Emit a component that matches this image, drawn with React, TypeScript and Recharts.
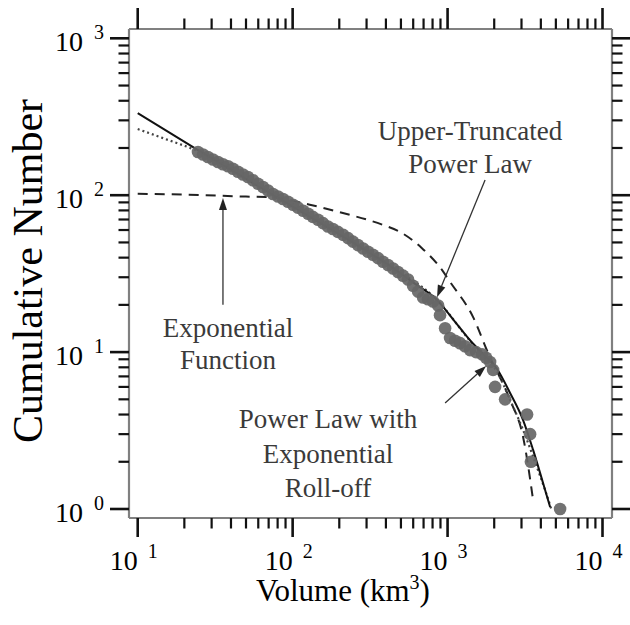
import React from "react";
import {
  ComposedChart,
  Label,
  Line,
  ReferenceDot,
  ReferenceLine,
  Scatter,
  XAxis,
  YAxis,
} from "recharts";

// observed cumulative distribution (volume in km^3, cumulative number)
const OBS_VOLUME = [
  24.5, 26.4, 28.4, 30.6, 33.0, 35.5, 38.3, 41.2, 44.4, 47.8, 51.5, 55.5, 59.8, 64.4, 69.4,
  74.7, 80.5, 86.7, 93.4, 100.6, 108, 117, 126, 135, 146, 157, 169, 182, 196, 212, 228, 245,
  264, 285, 307, 330, 356, 383, 413, 445, 479, 516, 556, 599, 645, 695, 748, 806, 869, 894,
  964, 1038, 1118, 1204, 1297, 1397, 1528, 1670, 1773, 1881, 1967, 2026, 2351, 3260, 3410,
  3450, 5325,
];
const OBS_COUNT = [
  188.5, 181.7, 175.2, 168.9, 162.8, 157.6, 153.0, 147.3, 141.0, 135.5, 130.6, 124.5, 118.2,
  112.8, 107.2, 101.8, 98.1, 94.6, 90.8, 87.0, 83.4, 79.6, 76.1, 72.8, 69.7, 66.4, 63.2, 60.9,
  58.4, 55.9, 53.3, 50.6, 48.1, 45.7, 43.6, 41.7, 39.7, 37.7, 35.9, 34.1, 32.4, 30.7, 29.0,
  26.5, 24.3, 22.3, 21.7, 21.0, 19.8, 17.2, 14.2, 12.3, 11.8, 11.4, 10.9, 10.3, 10.0, 9.7,
  9.2, 8.65, 7.7, 6.0, 5.0, 4.0, 3.0, 2.0, 1.0,
];

// upper-truncated power law (solid)
const TRUNC_VOLUME = [10, 24.5, 74.7, 112, 167, 272, 425, 617, 855, 1118, 1397, 1695, 2087, 2532, 3072, 3565, 4137, 4590];
const TRUNC_COUNT = [334, 194, 100.3, 79.3, 62.7, 46.8, 35.4, 27.2, 21.5, 15.6, 11.9, 9.7, 7.8, 5.49, 3.69, 2.38, 1.46, 1.03];

// power law with exponential roll-off (dotted)
const ROLL_VOLUME = [10, 15.7, 24.5, 74.7, 167, 425, 855, 1397, 1746, 2087, 2532, 3072, 3672, 4261, 4658];
const ROLL_COUNT = [264, 225, 191, 100, 62.7, 35.4, 21.5, 11.8, 9.2, 7.5, 4.95, 3.19, 1.99, 1.32, 1.01];

// exponential function (dashed)
const EXP_VOLUME = [10, 20, 50, 75, 100, 129, 211, 384, 494, 681, 920, 1038, 1462, 1826, 2532, 3072, 3565];
const EXP_COUNT = [102, 101, 98, 97, 92, 87, 77, 64.6, 58.3, 46.1, 33.4, 28, 16.7, 9.87, 4.95, 2.88, 1.14];

const X_DECADES = [10, 100, 1000];
const Y_DECADES = [1, 10, 100];
const MULTS = [1, 2, 3, 4, 5, 6, 7, 8, 9];

const xTicks = [...X_DECADES.flatMap((d) => MULTS.map((m) => d * m)), 10000];
const yTicks = [...Y_DECADES.flatMap((d) => MULTS.map((m) => d * m)), 1000];

const observed = OBS_VOLUME.map((v, i) => ({ v, n: OBS_COUNT[i] }));
const truncated = TRUNC_VOLUME.map((v, i) => ({ v, n: TRUNC_COUNT[i] }));
const rolloff = ROLL_VOLUME.map((v, i) => ({ v, n: ROLL_COUNT[i] }));
const exponential = EXP_VOLUME.map((v, i) => ({ v, n: EXP_COUNT[i] }));

const FONT = "'Liberation Serif', 'DejaVu Serif', serif";
const TEXT_GRAY = "#3a3a3a";

const isMajor = (v: number) => {
  const l = Math.log10(v);
  return Math.abs(l - Math.round(l)) < 1e-6;
};
const expOf = (v: number) => String(Math.round(Math.log10(v)));

function AxisTick(props: any) {
  const { x, y, payload, side } = props;
  const v = payload.value;
  const major = isMajor(v);
  const len = major ? (side === "top" ? 21 : 19) : 10.5;
  let x2 = x;
  let y2 = y;
  if (side === "bottom") y2 = y + len;
  if (side === "top") y2 = y - len;
  if (side === "left") x2 = x - len;
  if (side === "right") x2 = x + len;
  return (
    <g>
      <line x1={x} y1={y} x2={x2} y2={y2} stroke="#111" strokeWidth={major ? 2.6 : 2.2} />
      {major && side === "bottom" && (
        <g fontFamily={FONT} fill="#000">
          <text x={x} y={y + 52} textAnchor="end" fontSize={28}>10</text>
          <text x={x + 10} y={y + 40} fontSize={20}>{expOf(v)}</text>
        </g>
      )}
      {major && side === "left" && (
        <g fontFamily={FONT} fill="#000">
          <text x={x - 46} y={y + 13} textAnchor="end" fontSize={28}>10</text>
          <text x={x - 35} y={y + 1} fontSize={20}>{expOf(v)}</text>
        </g>
      )}
    </g>
  );
}

function Arrow(props: any) {
  const { x1, y1, x2, y2 } = props;
  const ang = Math.atan2(y2 - y1, x2 - x1);
  const L = 12;
  const W = 4;
  const bx = x2 - L * Math.cos(ang);
  const by = y2 - L * Math.sin(ang);
  const px = -Math.sin(ang) * W;
  const py = Math.cos(ang) * W;
  return (
    <g>
      <line x1={x1} y1={y1} x2={bx} y2={by} stroke="#333" strokeWidth={1.3} />
      <polygon points={`${x2},${y2} ${bx + px},${by + py} ${bx - px},${by - py}`} fill="#222" />
    </g>
  );
}

function Note(props: any) {
  const { cx, cy, lines, gap } = props;
  return (
    <g fontFamily={FONT} fontSize={27} fill={TEXT_GRAY} textAnchor="middle">
      {lines.map((t: string, i: number) => (
        <text key={t} x={cx} y={cy + i * gap}>
          {t}
        </text>
      ))}
    </g>
  );
}

const boxLine = { stroke: "#808080", strokeWidth: 2.2 };

export default function App() {
  return (
    <div style={{ position: "absolute", left: 0, top: 0, background: "#fff" }}>
      <ComposedChart width={630} height={625} margin={{ top: 0, right: 0, bottom: 0, left: 0 }}>
        <XAxis
          xAxisId="b"
          dataKey="v"
          type="number"
          scale="log"
          domain={[8.786, 11516]}
          allowDataOverflow
          ticks={xTicks}
          interval={0}
          height={107}
          tickSize={0}
          tickMargin={0}
          tickLine={false}
          axisLine={boxLine}
          tick={(p: any) => <AxisTick {...p} side="bottom" />}
        >
          <Label
            content={() => (
              <text x={343} y={601} textAnchor="middle" fontFamily={FONT} fontSize={31} fill="#000">
                Volume (km
                <tspan dy={-12} fontSize={20}>3</tspan>
                <tspan dy={12}>)</tspan>
              </text>
            )}
          />
        </XAxis>
        <XAxis
          xAxisId="t"
          orientation="top"
          dataKey="v"
          type="number"
          scale="log"
          domain={[8.786, 11516]}
          allowDataOverflow
          ticks={xTicks}
          interval={0}
          height={29}
          tickSize={0}
          tickMargin={0}
          tickLine={false}
          axisLine={boxLine}
          tick={(p: any) => <AxisTick {...p} side="top" />}
        />
        <YAxis
          yAxisId="l"
          dataKey="n"
          type="number"
          scale="log"
          domain={[0.8762, 1146.5]}
          allowDataOverflow
          ticks={yTicks}
          interval={0}
          width={129}
          tickSize={0}
          tickMargin={0}
          tickLine={false}
          axisLine={boxLine}
          tick={(p: any) => <AxisTick {...p} side="left" />}
        >
          <Label
            content={() => (
              <text
                transform="translate(28, 271) rotate(-90)"
                textAnchor="middle"
                dominantBaseline="central"
                fontFamily={FONT}
                fontSize={42}
                fill="#000"
              >
                Cumulative Number
              </text>
            )}
          />
        </YAxis>
        <YAxis
          yAxisId="r"
          orientation="right"
          dataKey="n"
          type="number"
          scale="log"
          domain={[0.8762, 1146.5]}
          allowDataOverflow
          ticks={yTicks}
          interval={0}
          width={18}
          tickSize={0}
          tickMargin={0}
          tickLine={false}
          axisLine={boxLine}
          tick={(p: any) => <AxisTick {...p} side="right" />}
        />

        <Scatter
          xAxisId="b"
          yAxisId="l"
          data={observed}
          dataKey="n"
          isAnimationActive={false}
          shape={(p: any) => <circle cx={p.cx} cy={p.cy} r={6.3} fill="#666" fillOpacity={0.92} />}
        />
        <Line
          xAxisId="b"
          yAxisId="l"
          data={exponential}
          dataKey="n"
          type="monotone"
          stroke="#222"
          strokeWidth={2}
          strokeDasharray="10 7"
          dot={false}
          activeDot={false}
          isAnimationActive={false}
        />
        <Line
          xAxisId="b"
          yAxisId="l"
          data={rolloff}
          dataKey="n"
          type="monotone"
          stroke="#444"
          strokeWidth={2.2}
          strokeDasharray="2 3"
          dot={false}
          activeDot={false}
          isAnimationActive={false}
        />
        <Line
          xAxisId="b"
          yAxisId="l"
          data={truncated}
          dataKey="n"
          type="monotone"
          stroke="#111"
          strokeWidth={2}
          dot={false}
          activeDot={false}
          isAnimationActive={false}
        />

        <ReferenceLine
          xAxisId="b"
          yAxisId="l"
          segment={[{ x: 1746, y: 125 }, { x: 855, y: 22.4 }]}
          shape={(p: any) => <Arrow {...p} />}
        />
        <ReferenceLine
          xAxisId="b"
          yAxisId="l"
          segment={[{ x: 35.5, y: 20 }, { x: 35.5, y: 96 }]}
          shape={(p: any) => <Arrow {...p} />}
        />
        <ReferenceLine
          xAxisId="b"
          yAxisId="l"
          segment={[{ x: 964, y: 4.74 }, { x: 1773, y: 8.15 }]}
          shape={(p: any) => <Arrow {...p} />}
        />
        <ReferenceDot
          xAxisId="b"
          yAxisId="l"
          x={1397}
          y={225}
          r={0}
          shape={(p: any) => <Note {...p} lines={["Upper-Truncated", "Power Law"]} gap={33} />}
        />
        <ReferenceDot
          xAxisId="b"
          yAxisId="l"
          x={38.3}
          y={12.5}
          r={0}
          shape={(p: any) => <Note {...p} lines={["Exponential", "Function"]} gap={32} />}
        />
        <ReferenceDot
          xAxisId="b"
          yAxisId="l"
          x={169}
          y={3.28}
          r={0}
          shape={(p: any) => (
            <Note {...p} lines={["Power Law with", "Exponential", "Roll-off"]} gap={34.5} />
          )}
        />
      </ComposedChart>
    </div>
  );
}
